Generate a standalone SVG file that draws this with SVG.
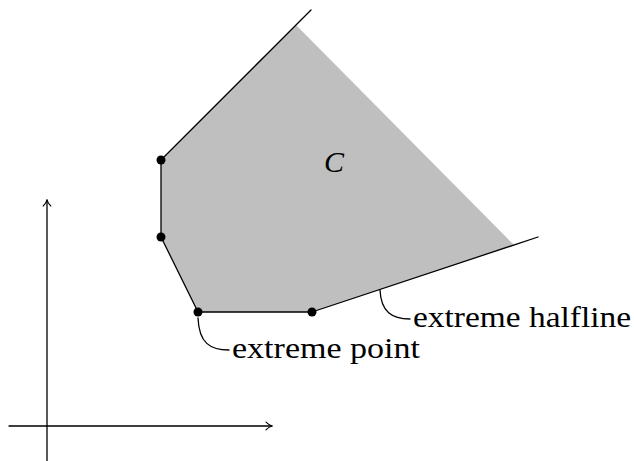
<svg xmlns="http://www.w3.org/2000/svg" width="634" height="461" viewBox="0 0 634 461" font-family="Liberation Serif">
<style>
.ln{fill:none;stroke:#000;stroke-width:1.3;stroke-linecap:round;stroke-linejoin:round}
.dot{fill:#000}
</style>
<defs>
<marker id="arr" viewBox="-6 -5 8 10" markerWidth="8" markerHeight="10" refX="1" refY="0" orient="auto" markerUnits="userSpaceOnUse">
<path d="M-5,-3.8 Q-2,-0.8 1,0 Q-2,0.8 -5,3.8" fill="none" stroke="#000" stroke-width="1.1" stroke-linecap="round" stroke-linejoin="round"/>
</marker>
</defs>
<rect width="634" height="461" fill="#fff"/>
<g id="axes">
<line class="ln" x1="47" y1="461" x2="47" y2="200" marker-end="url(#arr)"/>
<line class="ln" x1="9" y1="426" x2="272" y2="426" marker-end="url(#arr)"/>
</g>
<g id="region-C" font-family="Liberation Serif">
<polygon points="161,160 161,237 198,312 312,312 514,245 296,25" fill="#bfbfbf"/>
<polyline class="ln" points="311,10 161,160 161,237 198,312 312,312 538,237"/>
<text font-family="Liberation Serif" font-size="30" x="334" y="172" text-anchor="middle" font-style="italic"><tspan font-family="Liberation Serif">C</tspan></text>
</g>
<g id="points">
<circle class="dot" cx="161" cy="160" r="4.5"/>
<circle class="dot" cx="161" cy="237" r="4.5"/>
<circle class="dot" cx="198" cy="312" r="4.5"/>
<circle class="dot" cx="312" cy="312" r="4.5"/>
</g>
<g id="connectors">
<path class="ln" d="M198,318 C199,343 210,350 229,350"/>
<path class="ln" d="M380,290 C381,312 392,319 410,319"/>
</g>
<g id="label-point" font-family="Liberation Serif">
<text font-family="Liberation Serif" font-size="30" x="232" y="358" textLength="188" lengthAdjust="spacingAndGlyphs"><tspan font-family="Liberation Serif">extreme point</tspan></text>
</g>
<g id="label-halfline" font-family="Liberation Serif">
<text font-family="Liberation Serif" font-size="30" x="413" y="327" textLength="218" lengthAdjust="spacingAndGlyphs"><tspan font-family="Liberation Serif">extreme halfline</tspan></text>
</g>
</svg>
